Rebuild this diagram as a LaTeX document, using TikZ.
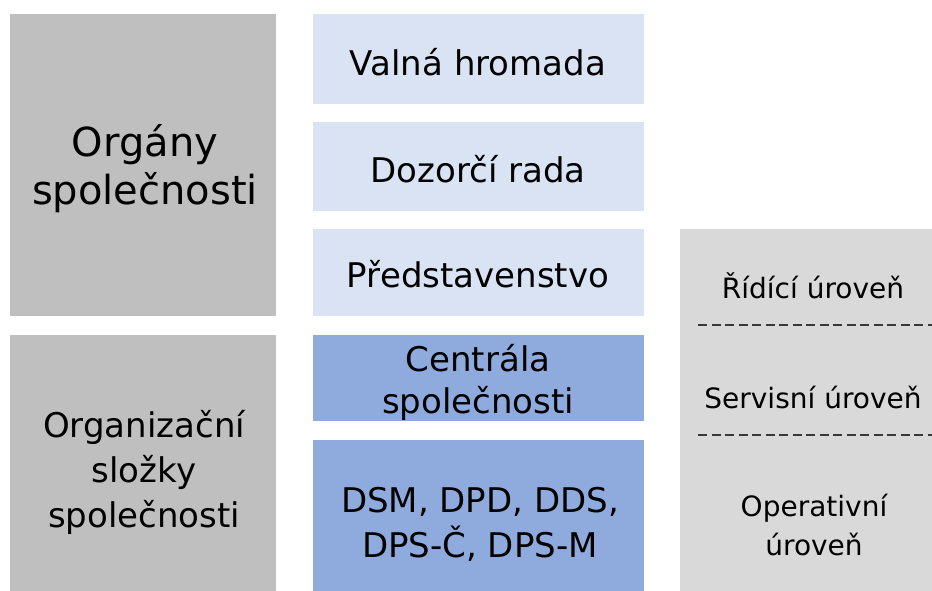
\documentclass[tikz,border=0pt]{standalone}
\usepackage{fontspec}
\setmainfont{DejaVu Sans}
\definecolor{grayA}{HTML}{BFBFBF}
\definecolor{grayB}{HTML}{D9D9D9}
\definecolor{blueL}{HTML}{DAE3F3}
\definecolor{blueM}{HTML}{8FAADC}
\definecolor{dashC}{HTML}{383838}
\begin{document}
\begin{tikzpicture}[x=1pt,y=-1pt,
  panel/.style={rectangle, inner sep=0pt, outer sep=0pt, draw=none},
  lbl/.style={inner sep=0pt, outer sep=0pt, align=center, text=black},
  sep/.style={draw=dashC, line width=1.7pt, dash pattern=on 9pt off 4.5pt}]
\useasboundingbox (0,0) rectangle (932,591);
% left column
\node[panel, fill=grayA, minimum width=266pt, minimum height=302pt] (organy) at (143,165) {};
\node[panel, fill=grayA, minimum width=266pt, minimum height=256pt] (slozky) at (143,463) {};
% middle column
\node[panel, fill=blueL, minimum width=331pt, minimum height=90pt] (valna) at (478.5,59) {};
\node[panel, fill=blueL, minimum width=331pt, minimum height=89pt] (dozor) at (478.5,166.5) {};
\node[panel, fill=blueL, minimum width=331pt, minimum height=87pt] (predst) at (478.5,272.5) {};
\node[panel, fill=blueM, minimum width=331pt, minimum height=86pt] (central) at (478.5,378) {};
\node[panel, fill=blueM, minimum width=331pt, minimum height=151pt] (dsm) at (478.5,515.5) {};
% right column
\node[panel, fill=grayB, minimum width=252pt, minimum height=362pt] (urovne) at (806,410) {};
% texts
\node[lbl, font=\fontsize{40}{48}\selectfont] (torg) at (145,169) {Orgány\\společnosti};
\node[lbl, font=\fontsize{34}{45}\selectfont] (tslo) at (144,472) {Organizační\\složky\\společnosti};
\node[lbl, font=\fontsize{34}{40}\selectfont] (tval) at (478,61.8) {Valná hromada};
\node[lbl, font=\fontsize{34}{40}\selectfont] (tdoz) at (478,169.6) {Dozorčí rada};
\node[lbl, font=\fontsize{34}{40}\selectfont] (tpre) at (478,274.6) {Představenstvo};
\node[lbl, font=\fontsize{34}{42.5}\selectfont] (tcen) at (478,382.2) {Centrála\\společnosti};
\node[lbl, font=\fontsize{34}{45}\selectfont] (tdsm) at (480,524.3) {DSM, DPD, DDS,\\DPS-Č, DPS-M};
\node[lbl, font=\fontsize{28}{39}\selectfont, anchor=base] (trid) at (813,298) {Řídící úroveň};
\node[lbl, font=\fontsize{28}{39}\selectfont, anchor=base] (tser) at (813,408) {Servisní úroveň};
\node[lbl, font=\fontsize{28}{39}\selectfont] (tope) at (814,525.3) {Operativní\\úroveň};
% dashed separators
\coordinate (d1a) at (698,325); \coordinate (d1b) at (932,325);
\coordinate (d2a) at (698,435); \coordinate (d2b) at (932,435);
\draw[sep] (d1a) -- (d1b);
\draw[sep] (d2a) -- (d2b);
\end{tikzpicture}
\end{document}
